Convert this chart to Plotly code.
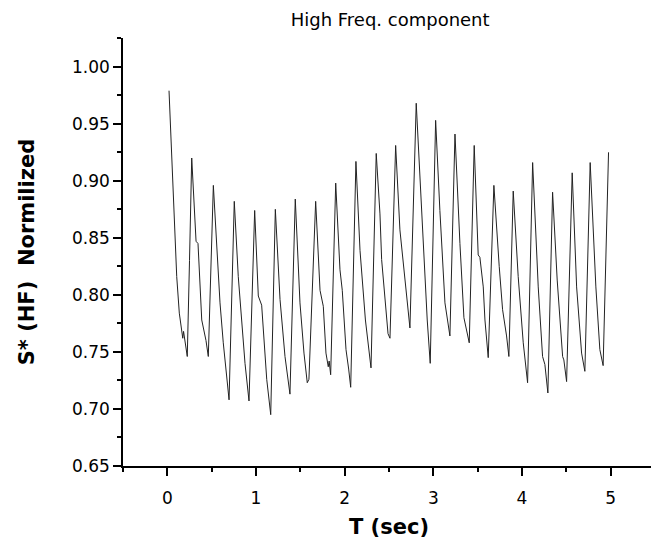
import plotly.graph_objects as go

# Time (s) and normalized S* (HF) values
t = [0.019, 0.068, 0.106, 0.135, 0.162, 0.174, 0.183, 0.200, 0.225, 0.250,
     0.275, 0.324, 0.346, 0.388, 0.414, 0.436, 0.462, 0.519, 0.594, 0.631,
     0.696, 0.755, 0.800, 0.876, 0.921, 0.985, 1.026, 1.064, 1.121, 1.166,
     1.218, 1.271, 1.327, 1.383, 1.443, 1.496, 1.541, 1.578, 1.597, 1.673,
     1.722, 1.759, 1.789, 1.815, 1.825, 1.842, 1.899, 1.947, 1.973, 2.015,
     2.045, 2.068, 2.127, 2.173, 2.234, 2.297, 2.356, 2.398, 2.417, 2.466,
     2.489, 2.511, 2.575, 2.623, 2.680, 2.714, 2.736, 2.807, 2.849, 2.886,
     2.931, 2.965, 3.026, 3.074, 3.131, 3.187, 3.244, 3.300, 3.345, 3.405,
     3.461, 3.506, 3.525, 3.563, 3.582, 3.619, 3.683, 3.743, 3.781, 3.826,
     3.852, 3.901, 3.957, 4.014, 4.063, 4.120, 4.183, 4.232, 4.258, 4.292,
     4.345, 4.397, 4.458, 4.472, 4.503, 4.566, 4.616, 4.672, 4.709, 4.769,
     4.833, 4.878, 4.915, 4.976]
s_hf = [0.979, 0.880, 0.816, 0.784, 0.767, 0.762, 0.768, 0.758, 0.746, 0.830,
        0.920, 0.847, 0.845, 0.778, 0.768, 0.760, 0.746, 0.896, 0.793, 0.758,
        0.708, 0.882, 0.816, 0.740, 0.707, 0.874, 0.799, 0.791, 0.726, 0.695,
        0.875, 0.796, 0.746, 0.713, 0.884, 0.793, 0.749, 0.723, 0.726, 0.882,
        0.804, 0.790, 0.749, 0.737, 0.742, 0.730, 0.898, 0.822, 0.804, 0.752,
        0.735, 0.719, 0.917, 0.839, 0.778, 0.736, 0.924, 0.871, 0.831, 0.784,
        0.766, 0.762, 0.931, 0.857, 0.813, 0.790, 0.771, 0.968, 0.900, 0.848,
        0.778, 0.740, 0.953, 0.874, 0.793, 0.764, 0.941, 0.845, 0.780, 0.758,
        0.931, 0.835, 0.833, 0.807, 0.778, 0.745, 0.896, 0.825, 0.787, 0.764,
        0.746, 0.891, 0.816, 0.758, 0.723, 0.916, 0.807, 0.746, 0.739, 0.714,
        0.890, 0.813, 0.746, 0.743, 0.724, 0.907, 0.807, 0.749, 0.733, 0.916,
        0.807, 0.752, 0.738, 0.925]

x_ticks = [0, 1, 2, 3, 4, 5]
y_ticks = [0.65, 0.70, 0.75, 0.80, 0.85, 0.90, 0.95, 1.00]
y_tick_text = ["0.65", "0.70", "0.75", "0.80", "0.85", "0.90", "0.95", "1.00"]

FONT = "DejaVu Sans, Arial, sans-serif"

fig = go.Figure()
fig.add_trace(go.Scatter(x=t, y=s_hf, mode="lines",
                         line=dict(color="#222222", width=1),
                         showlegend=False))

# the page body has an 8 px default margin, so the figure is 8 px smaller
fig.update_layout(
    width=651, height=536,
    margin=dict(l=115, r=4, t=30, b=78),
    plot_bgcolor="white", paper_bgcolor="white",
    font=dict(family=FONT, color="black"),
    title=dict(text="High Freq. component", x=0.587, xanchor="center",
               y=0.979, yanchor="middle", font=dict(size=18, family=FONT)),
    xaxis=dict(range=[-0.5, 5.5], tickvals=x_ticks,
               ticks="outside", ticklen=8, tickwidth=1.5, tickcolor="black",
               showline=True, linewidth=1.5, linecolor="black",
               showgrid=False, zeroline=False, automargin=False,
               tickfont=dict(size=17, family=FONT), ticklabelstandoff=8,
               minor=dict(ticks="outside", ticklen=4, tickwidth=1.5,
                          tickcolor="black", tick0=-0.5, dtick=0.5, showgrid=False),
               title=dict(text="<b>T (sec)</b>", font=dict(size=21, family=FONT),
                          standoff=12)),
    yaxis=dict(range=[0.65, 1.0252], tickvals=y_ticks, ticktext=y_tick_text,
               ticks="outside", ticklen=8, tickwidth=1.5, tickcolor="black",
               showline=True, linewidth=1.5, linecolor="black",
               showgrid=False, zeroline=False, automargin=False,
               tickfont=dict(size=17, family=FONT),
               minor=dict(ticks="outside", ticklen=4, tickwidth=1.5,
                          tickcolor="black", tick0=0.65, dtick=0.025, showgrid=False),
               title=dict(text="<b>S* (HF) \u00a0Normilized</b>",
                          font=dict(size=21, family=FONT), standoff=32)),
)

fig.write_html("out.html")
